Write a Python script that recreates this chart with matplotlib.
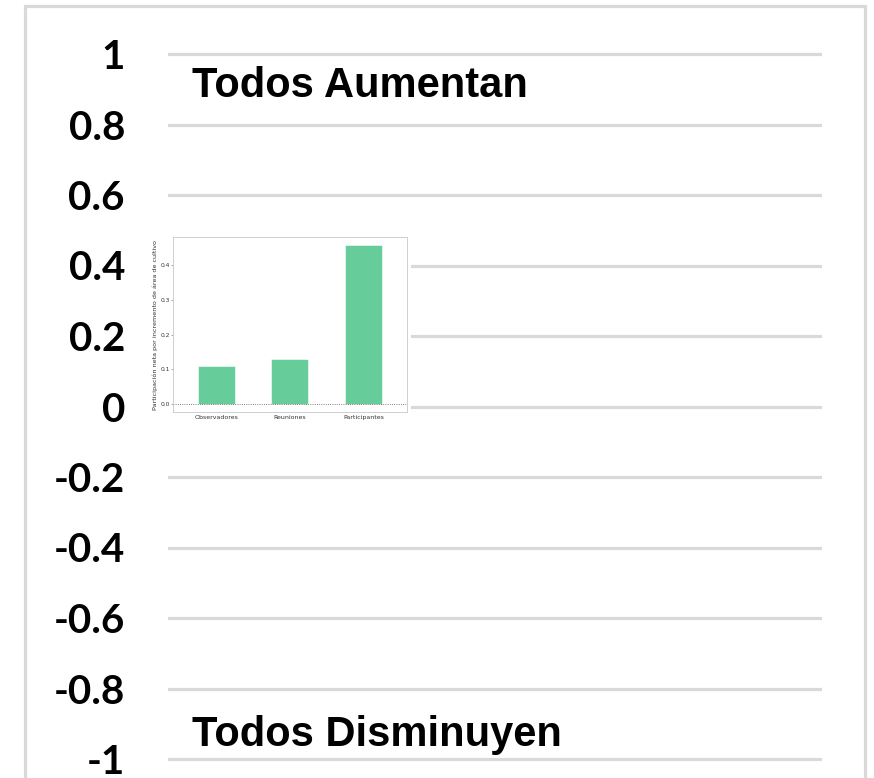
import matplotlib.pyplot as plt
from matplotlib.patches import Rectangle

W, H = 874, 778

# main scale
MAIN_TICKS = [1, 0.8, 0.6, 0.4, 0.2, 0, -0.2, -0.4, -0.6, -0.8, -1]
MAIN_LABELS = ['1', '0.8', '0.6', '0.4', '0.2', '0', '-0.2', '-0.4', '-0.6', '-0.8', '-1']
TOP_TEXT = 'Todos Aumentan'
BOTTOM_TEXT = 'Todos Disminuyen'

# inset bar chart
GROUPS = ['Observadores', 'Reuniones', 'Participantes']
VALUES = [0.11, 0.13, 0.458]
INSET_TICKS = [0.0, 0.1, 0.2, 0.3, 0.4]
INSET_YLABEL = 'Participación neta por incremento de área de cultivo'

GRID = '#D9D9D9'
GREEN = '#66CC99'


def box(x0, y0, x1, y1):
    # pixel box (top-left origin) -> figure fraction rect
    return [x0 / W, 1 - y1 / H, (x1 - x0) / W, (y1 - y0) / H]


fig = plt.figure(figsize=(W / 100, H / 100), dpi=100)

# outer frame
fig.patches.append(Rectangle((25 / W, -0.05), (865 - 25) / W, 1 - 6 / H + 0.05,
                             transform=fig.transFigure, fill=False,
                             edgecolor=GRID, lw=2.3, zorder=0))

ax = fig.add_axes(box(168, 0, 822, H))
ax.set_zorder(1)
ax.patch.set_alpha(0)
px = 352.5
zero = 406.5
ax.set_ylim((zero - H) / px, zero / px)
ax.set_xlim(0, 1)
ax.set_yticks(MAIN_TICKS)
ax.set_yticklabels(MAIN_LABELS, fontfamily='Lato', fontweight='bold', fontsize=29)
ax.tick_params(axis='y', length=0, pad=31)
ax.set_xticks([])
for s in ax.spines.values():
    s.set_visible(False)
ax.yaxis.grid(True, color=GRID, lw=2.3)
ax.set_axisbelow(True)

ax.text(24 / 654, 0.878, TOP_TEXT, fontfamily='Liberation Sans', fontweight='bold',
        fontsize=30, ha='left', va='baseline')
ax.text(24 / 654, -0.962, BOTTOM_TEXT, fontfamily='Liberation Sans', fontweight='bold',
        fontsize=30, ha='left', va='baseline')

# white backing of the pasted inset
bg = fig.add_axes(box(148, 234, 411, 425))
bg.set_zorder(2)
bg.set_xticks([])
bg.set_yticks([])
for s in bg.spines.values():
    s.set_visible(False)

ins = fig.add_axes(box(173, 237, 407, 412))
ins.set_zorder(3)
ins.bar(range(len(GROUPS)), VALUES, width=0.5, color=GREEN, edgecolor='white', lw=0.4)
ins.axhline(0, color='#555555', ls=':', lw=0.6)
ins.set_xlim(-0.585, 2.59)
ins.set_ylim(-0.023, 0.4806)
ins.set_xticks(range(len(GROUPS)))
ins.set_xticklabels(GROUPS, fontsize=4.5, color='#333333')
ins.set_yticks(INSET_TICKS)
ins.set_yticklabels([f'{t:.1f}' for t in INSET_TICKS], fontsize=4.3, color='#333333')
ins.tick_params(axis='y', length=1.2, width=0.4, pad=1, color='#666666')
ins.tick_params(axis='x', length=0, pad=2)
ins.set_ylabel(INSET_YLABEL, fontsize=4.6, labelpad=1.5, color='#333333')
for s in ins.spines.values():
    s.set_color('#C8C8C8')
    s.set_linewidth(0.6)

fig.savefig('out.png', dpi=100)
